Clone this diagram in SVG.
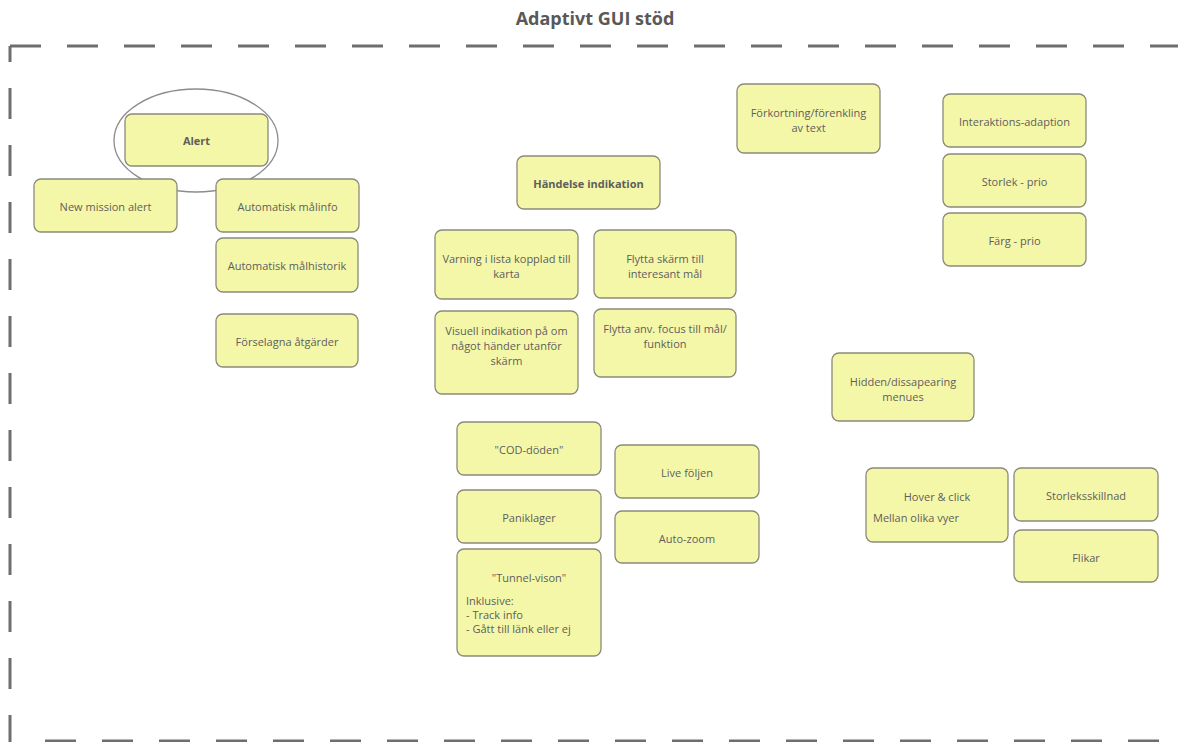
<svg xmlns="http://www.w3.org/2000/svg" width="1178" height="742" viewBox="0 0 1178 742">
<style>
.n rect{fill:#f5f7a8;stroke:#8a8a7a;stroke-width:1.3}
.n text,.t{font-family:"Open Sans","Liberation Sans",sans-serif;font-size:11px;fill:#5e5e5e;text-anchor:middle;dominant-baseline:central}
.n text.b{font-weight:bold}
.n text.l{text-anchor:start}
.title{font-family:"Open Sans","Liberation Sans",sans-serif;font-size:18px;font-weight:bold;fill:#595959;text-anchor:middle;dominant-baseline:central}
.border{stroke:#6e6e6e;stroke-width:3;fill:none;stroke-dasharray:31 26}
</style>
<rect width="1178" height="742" fill="#fff"/>
<text class="title" x="595" y="18">Adaptivt GUI stöd</text>
<g id="frame">
<line class="border" x1="10" y1="46" x2="1178" y2="46"/>
<line class="border" x1="10" y1="46" x2="10" y2="742" stroke-dashoffset="15"/>
<line class="border" x1="45" y1="741" x2="1178" y2="741"/>
</g>
<g id="connectors"></g>
<g id="alert" class="n"><rect x="125" y="114" width="143" height="52" rx="7"/><text class="b" x="196.5" y="140">Alert</text></g>
<ellipse cx="196" cy="140.5" rx="82" ry="51.5" fill="none" stroke="#8c8c8c" stroke-width="1.3"/>
<g id="new-mission" class="n"><rect x="34" y="179" width="143" height="53" rx="7"/><text x="105.5" y="206">New mission alert</text></g>
<g id="malinfo" class="n"><rect x="216" y="179" width="143" height="53" rx="7"/><text x="287.5" y="206">Automatisk målinfo</text></g>
<g id="malhistorik" class="n"><rect x="216" y="238" width="142" height="54" rx="7"/><text x="287" y="265">Automatisk målhistorik</text></g>
<g id="forselagna" class="n"><rect x="216" y="314" width="142" height="53" rx="7"/><text x="287" y="341">Förselagna åtgärder</text></g>
<g id="handelse" class="n"><rect x="517" y="156" width="143" height="53" rx="7"/><text class="b" x="588.5" y="183">Händelse indikation</text></g>
<g id="forkortning" class="n"><rect x="737" y="84" width="143" height="69" rx="7"/><text x="808.5" y="112">Förkortning/förenkling</text><text x="808.5" y="127">av text</text></g>
<g id="interaktion" class="n"><rect x="943" y="94" width="143" height="53" rx="7"/><text x="1014.5" y="121">Interaktions-adaption</text></g>
<g id="storlek" class="n"><rect x="943" y="154" width="143" height="53" rx="7"/><text x="1014.5" y="181">Storlek - prio</text></g>
<g id="farg" class="n"><rect x="943" y="213" width="143" height="53" rx="7"/><text x="1014.5" y="240">Färg - prio</text></g>
<g id="varning" class="n"><rect x="435" y="230" width="143" height="69" rx="7"/><text x="506.5" y="258">Varning i lista kopplad till</text><text x="506.5" y="273">karta</text></g>
<g id="flytta-skarm" class="n"><rect x="594" y="230" width="142" height="68" rx="7"/><text x="665" y="258">Flytta skärm till</text><text x="665" y="273">interesant mål</text></g>
<g id="visuell" class="n"><rect x="435" y="311" width="143" height="83" rx="7"/><text x="506.5" y="330">Visuell indikation på om</text><text x="506.5" y="345">något händer utanför</text><text x="506.5" y="360">skärm</text></g>
<g id="flytta-focus" class="n"><rect x="594" y="309" width="142" height="68" rx="7"/><text x="665" y="328">Flytta anv. focus till mål/</text><text x="665" y="343">funktion</text></g>
<g id="cod" class="n"><rect x="457" y="422" width="144" height="53" rx="7"/><text x="529" y="449">"COD-döden"</text></g>
<g id="live" class="n"><rect x="615" y="445" width="144" height="53" rx="7"/><text x="687" y="472">Live följen</text></g>
<g id="panik" class="n"><rect x="457" y="490" width="144" height="53" rx="7"/><text x="529" y="517">Paniklager</text></g>
<g id="autozoom" class="n"><rect x="615" y="511" width="144" height="52" rx="7"/><text x="687" y="538">Auto-zoom</text></g>
<g id="tunnel" class="n"><rect x="457" y="549" width="144" height="107" rx="7"/><text x="529" y="577">"Tunnel-vison"</text><text class="l" x="466" y="600">Inklusive:</text><text class="l" x="466" y="614">- Track info</text><text class="l" x="466" y="628">- Gått till länk eller ej</text></g>
<g id="hidden" class="n"><rect x="832" y="353" width="142" height="68" rx="7"/><text x="903" y="381">Hidden/dissapearing</text><text x="903" y="396">menues</text></g>
<g id="hover" class="n"><rect x="866" y="468" width="142" height="74" rx="7"/><text x="937" y="496">Hover &amp; click</text><text class="l" x="873" y="517">Mellan olika vyer</text></g>
<g id="storleksskillnad" class="n"><rect x="1014" y="468" width="144" height="53" rx="7"/><text x="1086" y="495">Storleksskillnad</text></g>
<g id="flikar" class="n"><rect x="1014" y="530" width="144" height="52" rx="7"/><text x="1086" y="557">Flikar</text></g>
</svg>
